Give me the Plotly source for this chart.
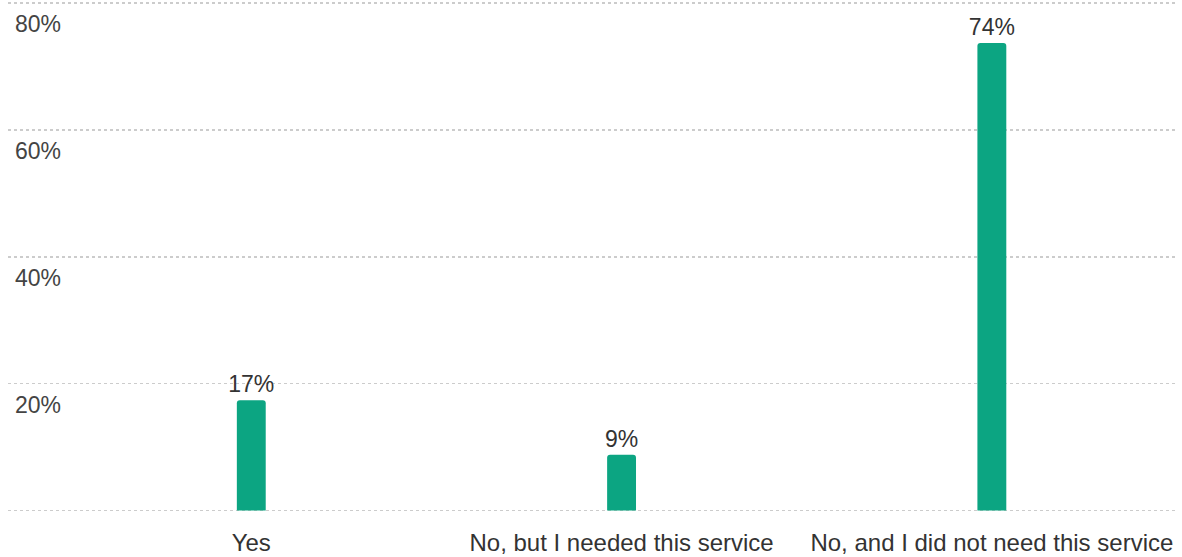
import plotly.graph_objects as go

categories = ["Yes", "No, but I needed this service", "No, and I did not need this service"]
values = [17.4, 8.8, 73.7]
labels = ["17%", "9%", "74%"]
y_tickvals = [0, 20, 40, 60, 80]
y_ticktext = ["", "20%", "40%", "60%", "80%"]

FONT = "Liberation Sans, Arial, sans-serif"

fig = go.Figure()
fig.add_trace(go.Bar(
    x=categories,
    y=values,
    text=labels,
    textposition="outside",
    constraintext="none",
    textfont=dict(size=23, color="#333333", family=FONT),
    marker=dict(color="#0ca582", cornerradius=3, line=dict(width=0)),
    width=0.078,
    cliponaxis=False,
    hoverinfo="skip",
))

fig.update_layout(
    width=1182, height=557,
    margin=dict(l=8, r=5, t=0, b=44, autoexpand=False),
    paper_bgcolor="white", plot_bgcolor="white",
    showlegend=False,
    font=dict(family=FONT, size=24, color="#333333"),
)
fig.update_xaxes(
    type="category",
    range=[-0.657, 2.5],
    automargin=False,
    showgrid=False, showline=False, zeroline=False,
    ticks="", ticklabelstandoff=13,
    tickfont=dict(size=24, color="#333333", family=FONT),
)
fig.update_yaxes(
    range=[-0.4, 80.5],
    automargin=False,
    tickvals=y_tickvals, ticktext=y_ticktext,
    showgrid=True, gridcolor="#cccccc", gridwidth=1.5, griddash="dot",
    zeroline=False, showline=False,
    ticks="", ticklabelposition="inside bottom",
    ticklabelshift=5, ticklabelstandoff=4,
    tickfont=dict(size=23, color="#444444", family=FONT),
)

fig.write_html(
    "out.html",
    config={"displayModeBar": False, "staticPlot": True},
    post_script="document.body.style.margin='0';document.body.style.overflow='hidden';",
)
